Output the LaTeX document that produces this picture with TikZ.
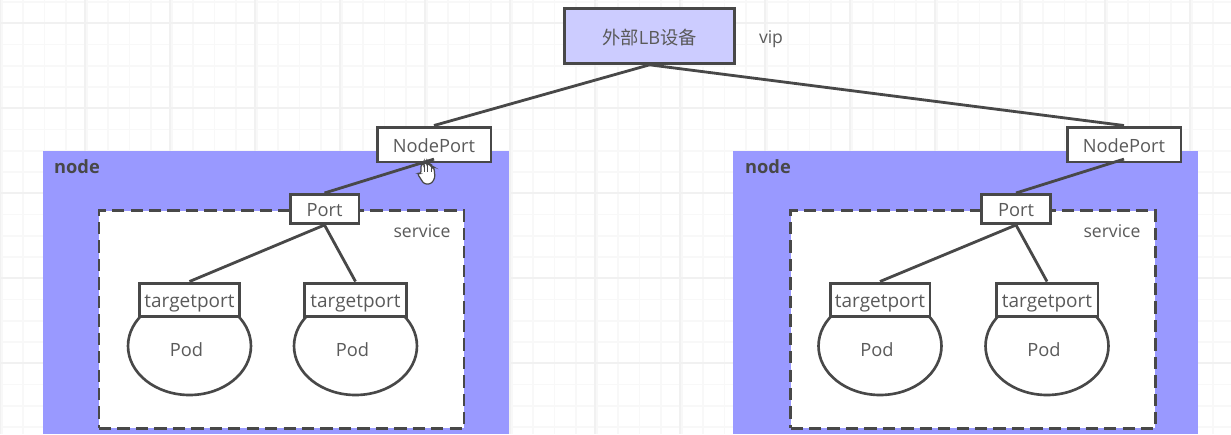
\documentclass[tikz,border=0pt]{standalone}
\usepackage{fontspec}
\setmainfont{Open Sans}
\newfontfamily\cjk{Noto Sans CJK SC}
\usetikzlibrary{shapes.geometric, positioning}
\definecolor{gridlight}{HTML}{F8F8F8}
\definecolor{gridstrong}{HTML}{F1F1F1}
\definecolor{nodeblue}{HTML}{9999FF}
\definecolor{lbblue}{HTML}{CCCCFF}
\definecolor{inkgray}{HTML}{484848}
\definecolor{textgray}{HTML}{5A5A5A}

\begin{document}
\begin{tikzpicture}[
  x=0.02cm, y=-0.02cm,
  region/.style={rectangle, fill=nodeblue, minimum width=9.32cm, minimum height=5.66cm, inner sep=0},
  servicebox/.style={rectangle, fill=white, draw=inkgray, line width=1.6pt, dash pattern=on 7pt off 3.5pt,
    minimum width=7.3cm, minimum height=4.36cm, inner sep=0},
  lbbox/.style={rectangle, fill=lbblue, draw=inkgray, line width=1.5pt, text height=10pt,
    minimum width=3.4cm, minimum height=1.1cm, font=\fontsize{10.4}{12}\selectfont, text=textgray},
  portbox/.style={rectangle, fill=white, draw=inkgray, line width=1.7pt, inner sep=0, text height=9pt,
    minimum height=0.58cm, font=\fontsize{10.4}{12}\selectfont, text=textgray},
  targetbox/.style={portbox, minimum height=0.66cm, text height=12pt, font=\fontsize{10.8}{12}\selectfont},
  podshape/.style={ellipse, fill=white, draw=inkgray, line width=1.5pt, inner sep=0, text height=12.3pt,
    minimum width=2.46cm, minimum height=1.96cm, font=\fontsize{10.4}{12}\selectfont, text=textgray,
    execute at end node={\hspace{3.5pt}}},
  tag/.style={text=textgray, inner sep=0, font=\fontsize{10}{12}\selectfont},
  nodetag/.style={text=inkgray, inner sep=0, font=\fontsize{10.4}{12}\selectfont\bfseries},
  link/.style={inkgray, line width=1.6pt}
]
  \useasboundingbox (0,0) rectangle (1231,434);

  % background grid
  \foreach \i in {0,...,58} {
    \draw[gridlight, line width=0.9pt] ({2+21.25*\i},0) -- ({2+21.25*\i},434);
  }
  \foreach \i in {0,...,20} {
    \draw[gridlight, line width=0.9pt] (0,{2+21.25*\i}) -- (1231,{2+21.25*\i});
  }
  \foreach \i in {0,...,14} {
    \draw[gridstrong, line width=1pt] ({85*\i},0) -- ({85*\i},434);
  }
  \foreach \i in {0,...,5} {
    \draw[gridstrong, line width=1pt] (0,{23+85*\i}) -- (1231,{23+85*\i});
  }

  % load balancer
  \node[lbbox] (lb) at (649.5,36) {{\cjk 外部}LB{\cjk 设备}};
  \node[tag] (vip) at (771,39) {vip};

  % left node
  \node[region] (nodeA) at (276,292.5) {};
  \node[nodetag] (nodeAtag) at (77,167) {node};
  \node[servicebox] (serviceA) at (281.5,319.5) {};
  \node[tag] (serviceAtag) at (422,231) {service};
  \node[podshape] (podA) at (189.5,346) {Pod};
  \node[podshape] (podB) at (355.5,346) {Pod};
  \node[targetbox, minimum width=2cm] (targetA) at (189.5,299.5) {targetport};
  \node[targetbox, minimum width=2.04cm] (targetB) at (355.5,299.5) {targetport};
  \node[portbox, minimum width=1.38cm] (portA) at (324.5,209) {Port};
  \node[portbox, minimum width=2.28cm, minimum height=0.7cm] (nodeportA) at (434,144.5) {NodePort};

  % right node
  \node[region] (nodeB) at (965.5,292.5) {};
  \node[nodetag] (nodeBtag) at (768,167) {node};
  \node[servicebox] (serviceB) at (973,319.5) {};
  \node[tag] (serviceBtag) at (1112,231) {service};
  \node[podshape] (podC) at (880,346) {Pod};
  \node[podshape] (podD) at (1047,346) {Pod};
  \node[targetbox, minimum width=2cm] (targetC) at (880,299.5) {targetport};
  \node[targetbox, minimum width=2.04cm] (targetD) at (1047,299.5) {targetport};
  \node[portbox, minimum width=1.38cm] (portB) at (1016,209) {Port};
  \node[portbox, minimum width=2.28cm, minimum height=0.7cm] (nodeportB) at (1124,144.5) {NodePort};

  % connectors
  \draw[link] (lb.south) -- (nodeportA.north);
  \draw[link] (lb.south) -- (nodeportB.north);
  \draw[link] ([yshift=2.5pt]nodeportA.south) -- (portA.north);
  \draw[link] ([yshift=2.5pt]nodeportB.south) -- (portB.north);
  \draw[link] (portA.south) -- (targetA.north);
  \draw[link] (portA.south) -- (targetB.north);
  \draw[link] (portB.south) -- (targetC.north);
  \draw[link] (portB.south) -- (targetD.north);

  % hand cursor
  \draw[fill=white, draw=inkgray, line width=0.7pt, rounded corners=1.5pt]
    (417,173) -- (421,174) -- (421,164) -- (424,164) -- (424,162) -- (427,162) -- (427,164)
    -- (430,164) -- (431,166) -- (434,167) -- (435,178) -- (431,184) -- (424,184) -- cycle;
  \draw[inkgray, line width=0.5pt] (424,165) -- (424,172) (427,165) -- (427,172) (431,167) -- (431,172);
\end{tikzpicture}
\end{document}
